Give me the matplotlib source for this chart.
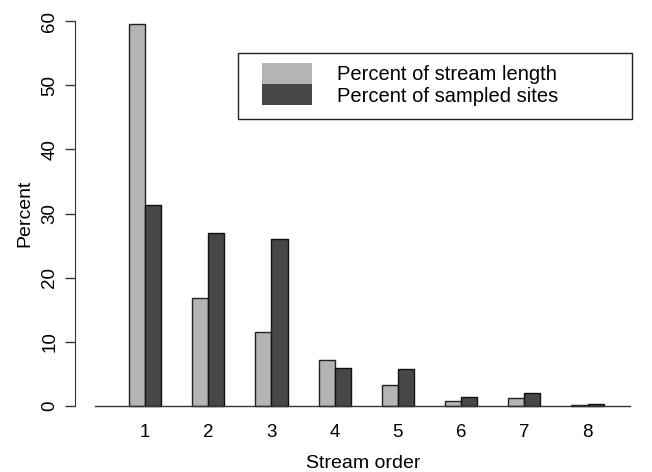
import matplotlib
matplotlib.use("Agg")
import matplotlib.pyplot as plt
from matplotlib.patches import Rectangle
import numpy as np

plt.rcParams['font.family'] = ['Liberation Sans', 'DejaVu Sans']

orders = [1, 2, 3, 4, 5, 6, 7, 8]
pct_length = [59.5, 16.8, 11.5, 7.1, 3.2, 0.8, 1.2, 0.1]
pct_sites = [31.3, 27.0, 26.1, 6.0, 5.8, 1.4, 2.1, 0.25]
labels = ["Percent of stream length", "Percent of sampled sites"]
light, dark = "#b4b4b4", "#474747"

W, H = 652, 472
fig = plt.figure(figsize=(W / 100, H / 100), dpi=100)
# axes: left spine at x=75px, y=0 at 406px, y=60 at 21px
ax = fig.add_axes([75 / W, 1 - 421.4 / H, (W - 75) / W, (421.4 - 5.6) / H])

x = np.arange(len(orders))
bw = 0.255
ax.bar(x - bw / 2, pct_length, bw, color=light, edgecolor="#222222", linewidth=1.0, zorder=2)
ax.bar(x + bw / 2, pct_sites, bw, color=dark, edgecolor="#111111", linewidth=1.0, zorder=2)

ax.set_xlim(-1.108, 8.02)
ax.set_ylim(-2.4, 62.4)
ax.plot([-0.79, 7.67], [0, 0], color="#333333", lw=1.0, zorder=3)

for s in ["top", "right", "bottom"]:
    ax.spines[s].set_visible(False)
ax.spines["left"].set_bounds(0, 60)
ax.spines["left"].set_color("#333333")
ax.set_yticks([0, 10, 20, 30, 40, 50, 60])
ax.set_yticklabels([str(v) for v in [0, 10, 20, 30, 40, 50, 60]], rotation=90, va="center")
ax.tick_params(axis="y", length=7, width=1.0, color="#333333", pad=5, labelsize=13.5)
ax.set_xticks(x)
ax.set_xticklabels([str(o) for o in orders])
ax.tick_params(axis="x", length=0, pad=2, labelsize=13.5)
ax.set_ylabel("Percent", fontsize=14, labelpad=6)
ax.set_xlabel("Stream order", fontsize=14, labelpad=10)

# legend box in pixel coordinates
def px(xp, yp):
    return xp / W, 1 - yp / H

x0, y0 = px(238, 119)
fig.patches.append(Rectangle((x0, y0), (632 - 238) / W, (119 - 53) / H, transform=fig.transFigure,
                             fill=False, edgecolor="#222222", lw=1.0))
for i, (lab, c) in enumerate(zip(labels, [light, dark])):
    top = 63 + 21 * i
    rx, ry = px(262, top + 21)
    fig.patches.append(Rectangle((rx, ry), 50 / W, 21 / H, transform=fig.transFigure,
                                 facecolor=c, edgecolor="none"))
    tx, ty = px(337, top + 12)
    fig.text(tx, ty, lab, fontsize=14.5, va="center", ha="left")

fig.savefig("out.png", dpi=100)
